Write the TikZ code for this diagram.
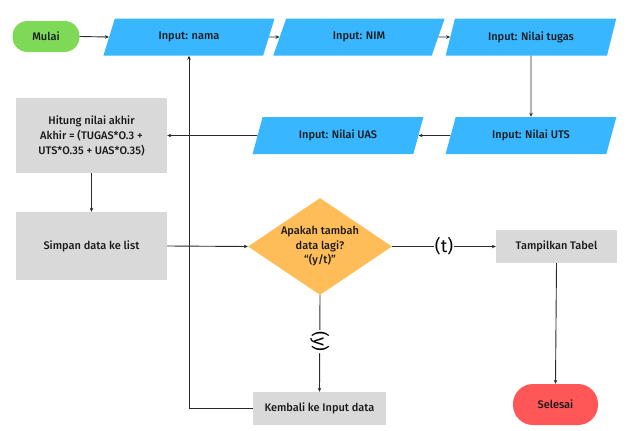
\documentclass[tikz,border=0pt]{standalone}
\usepackage{fontspec}
\setmainfont{Fira Sans}[UprightFont={* Medium}]
\newfontfamily\lblfont{Fira Sans}
\usetikzlibrary{shapes.geometric,arrows.meta}
\definecolor{cgreen}{HTML}{7ED957}
\definecolor{cblue}{HTML}{38B6FF}
\definecolor{corange}{HTML}{FFBD59}
\definecolor{cgray}{HTML}{D9D9D9}
\definecolor{cred}{HTML}{FF5757}
\definecolor{cline}{HTML}{2B2B2B}
\tikzset{
  base/.style={font=\fontsize{11}{15}\selectfont, text=black!90, inner sep=0pt, align=center},
  term/.style={base, rounded corners=15pt, draw=none},
  io/.style={base, trapezium, trapezium stretches=true, trapezium left angle=65, trapezium right angle=115,
    minimum width=172pt, minimum height=37pt, fill=cblue},
  proc/.style={base, fill=cgray},
  dec/.style={base, diamond, fill=corange, minimum width=144pt, minimum height=97pt, aspect=1.48,
    font=\fontsize{11}{14.5}\selectfont},
  arr/.style={draw=cline, line width=0.9pt, -{Stealth[length=4pt,width=3.6pt]}},
  lbl/.style={font=\lblfont\fontsize{18}{18}\selectfont, text=black, fill=white, inner sep=1pt}
}
\begin{document}
\begin{tikzpicture}[x=1pt,y=-1pt]
\useasboundingbox (0,0) rectangle (630,431);
\node[term, fill=cgreen, minimum width=67pt, minimum height=31pt] (mulai) at (46,36.5) {Mulai};
\node[io] (nama) at (189,37) {Input: nama};
\node[io] (nim) at (359,37) {Input: NIM};
\node[io] (tugas) at (531,37) {Input: Nilai tugas};
\node[io] (uts) at (531,135.5) {Input: Nilai UTS};
\node[io] (uas) at (338,135.5) {Input: Nilai UAS};
\node[proc, minimum width=151pt, minimum height=75pt] (hitung) at (91.5,135.5) {Hitung nilai akhir\\Akhir = (TUGAS*O.3 +\\UTS*O.35 + UAS*O.35)};
\node[proc, minimum width=151pt, minimum height=68pt] (simpan) at (91.5,246) {Simpan data ke list};
\node[dec] (dec) at (320,246.5) {Apakah tambah\\data lagi?\\“(y/t)"};
\node[proc, minimum width=121pt, minimum height=33pt] (tabel) at (556.5,246.5) {Tampilkan Tabel};
\node[term, fill=cred, minimum width=85pt, minimum height=41pt, rounded corners=20pt] (selesai) at (555.5,404.5) {Selesai};
\node[proc, minimum width=133pt, minimum height=33pt] (kembali) at (319.5,408.5) {Kembali ke Input data};

\draw[arr] (mulai.east) -- (nama.west);
\draw[arr] (nama.east) -- (nim.west);
\draw[arr] (nim.east) -- (tugas.west);
\draw[arr] (tugas.south) -- (uts.north);
\draw[arr] (uts.west) -- (uas.east);
\draw[arr] (uas.west) -- (hitung.east);
\draw[arr] (hitung.south) -- (simpan.north);
\draw[arr] (simpan.east) -- (dec.west);
\draw[arr] (dec.east) -- node[lbl] (t) {(t)} (tabel.west);
\draw[arr] (tabel.south) -- (selesai.north);
\draw[arr] (dec.south) -- node[lbl, rotate=-90, pos=0.48] (y) {(y)} (kembali.north);
\draw[arr] (kembali.west) -| (nama.south);
\end{tikzpicture}
\end{document}
